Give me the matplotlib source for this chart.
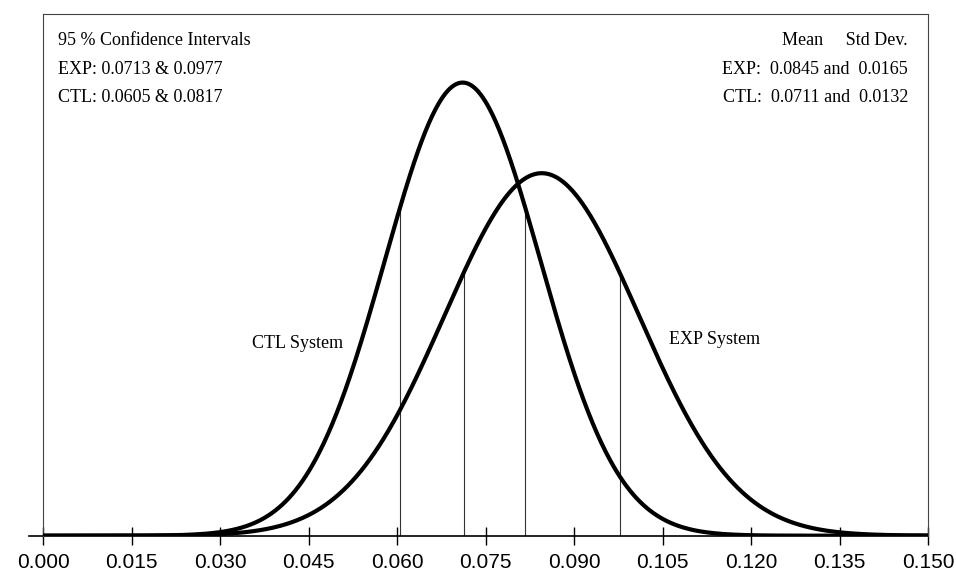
import numpy as np
import matplotlib
matplotlib.use("Agg")
import matplotlib.pyplot as plt

# ---- data (from the chart) ----
series = ["EXP", "CTL"]
means = [0.0845, 0.0711]
std_devs = [0.0165, 0.0132]
ci_exp = [0.0713, 0.0977]
ci_ctl = [0.0605, 0.0817]
x_ticks = [0.000, 0.015, 0.030, 0.045, 0.060, 0.075, 0.090, 0.105, 0.120, 0.135, 0.150]
x_tick_labels = ["%.3f" % t for t in x_ticks]


def normal_pdf(x, mu, sd):
    return np.exp(-0.5 * ((x - mu) / sd) ** 2) / (sd * np.sqrt(2 * np.pi))


fig = plt.figure(figsize=(9.56, 5.81), dpi=100)
ax = fig.add_axes([0.045, 0.078, 0.926, 0.898])

xs = np.linspace(x_ticks[0], x_ticks[-1], 800)
for mu, sd in zip(means, std_devs):
    ax.plot(xs, normal_pdf(xs, mu, sd), color="black", lw=3.0, solid_capstyle="round", zorder=3)

# confidence interval drop lines
for v in ci_exp:
    ax.vlines(v, 0, normal_pdf(v, means[0], std_devs[0]), color="#333333", lw=0.8, zorder=2)
for v in ci_ctl:
    ax.vlines(v, 0, normal_pdf(v, means[1], std_devs[1]), color="#333333", lw=0.8, zorder=2)

ax.set_xlim(x_ticks[0], x_ticks[-1])
ax.set_ylim(0, 34.8)

for s in ["left", "top", "right"]:
    ax.spines[s].set_linewidth(0.8)
    ax.spines[s].set_color("#444444")
ax.spines["bottom"].set_visible(False)
ax.plot([-0.0024, x_ticks[-1]], [0, 0], color="black", lw=1.2, clip_on=False, zorder=2)

ax.set_xticks(x_ticks)
ax.set_xticklabels(x_tick_labels, fontfamily="Liberation Sans", fontsize=15)
ax.tick_params(axis="x", direction="inout", length=13, width=1, pad=6)
ax.set_yticks([])

serif = "Liberation Serif"
fs = 13
ax.text(0.017, 0.950, "95 % Confidence Intervals", transform=ax.transAxes, fontfamily=serif, fontsize=fs, va="center", ha="left")
ax.text(0.017, 0.893, "EXP: %.4f & %.4f" % tuple(ci_exp), transform=ax.transAxes, fontfamily=serif, fontsize=fs, va="center", ha="left")
ax.text(0.017, 0.840, "CTL: %.4f & %.4f" % tuple(ci_ctl), transform=ax.transAxes, fontfamily=serif, fontsize=fs, va="center", ha="left")

ax.text(0.977, 0.950, "Mean     Std Dev.", transform=ax.transAxes, fontfamily=serif, fontsize=fs, va="center", ha="right")
ax.text(0.977, 0.893, "EXP:  %.4f and  %.4f" % (means[0], std_devs[0]), transform=ax.transAxes, fontfamily=serif, fontsize=fs, va="center", ha="right")
ax.text(0.977, 0.840, "CTL:  %.4f and  %.4f" % (means[1], std_devs[1]), transform=ax.transAxes, fontfamily=serif, fontsize=fs, va="center", ha="right")

ax.text(0.287, 0.368, "CTL System", transform=ax.transAxes, fontfamily=serif, fontsize=fs, va="center", ha="center")
ax.text(0.759, 0.376, "EXP System", transform=ax.transAxes, fontfamily=serif, fontsize=fs, va="center", ha="center")

fig.savefig("out.png", dpi=100)
